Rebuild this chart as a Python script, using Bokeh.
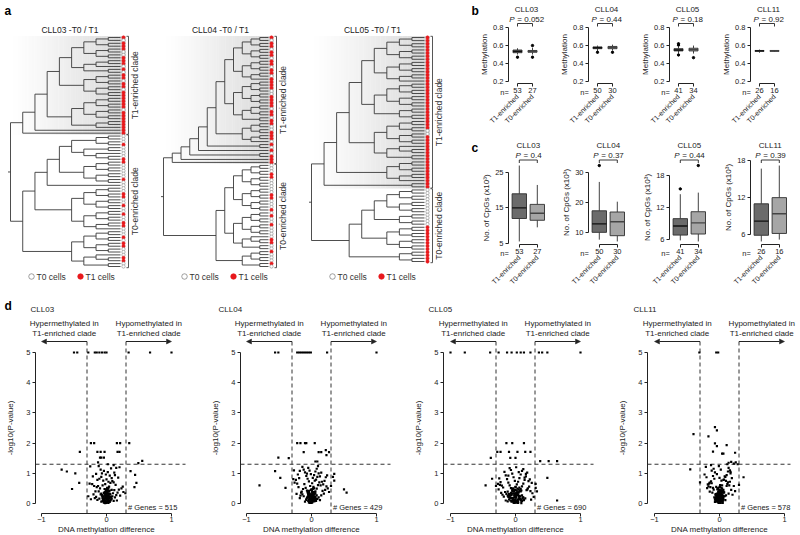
import math
from bokeh.plotting import figure
from bokeh.layouts import row, column
from bokeh.models import Range1d, FixedTicker, LinearAxis, Arrow, NormalHead
from bokeh.core.properties import value
from bokeh.embed import file_html
from bokeh.resources import INLINE

FONT = "Liberation Sans"
INK = "#222222"
RED = "#e8191c"

# ---------------- data ----------------
# dendrograms: "(" ... ")" = clade, 1 = T1 cell (red), 0 = T0 cell (white); first child of root = T1-enriched clade
tree_titles = ["CLL03 -T0 / T1", "CLL04 -T0 / T1", "CLL05 -T0 / T1"]
tree_cll03 = (
    "("
    "((("
    "(((((10)(11))((10)(01)))(((11)0)(10)))(((11)(01))((10)(11))))"
    "((((11)(11))((01)(11)))((11)1))"
    ")1)1)"
    "(("
    "(((((00)(01))((00)(0(01))))(((10)(00))((00)(10))))0)"
    "((((00)(11))((00)(10)))(((01)(00))((11)0)))"
    ")"
    "((((00)(10))((11)(00)))((0(11))(00)))"
    ")"
    ")"
)
tree_cll04 = (
    "("
    "((((("
    "(("
    "((((10)(11))((01)(10)))(((11)(01))((10)1)))"
    "((((11)(10))((01)(11)))(((10)(11))(01)))"
    ")"
    "(((10)(01))((11)0))"
    ")"
    "(10))1)(01))1)1)"
    "(("
    "((((00)(01))((10)(00)))(((00)(11))((00)(01))))"
    "((((01)(00))((10)(00)))((0(11))(00)))"
    ")"
    "(((10)(00))(10))"
    ")"
    ")"
)
tree_cll05 = (
    "("
    "((("
    "("
    "((((11)(11))((11)(11)))(((11)(11))((11)1)))"
    "((((11)(11))((11)(11)))((11)(11)))"
    ")"
    "((((11)(10))((01)(11)))((1(11))(11)))"
    ")"
    "(((11)(11))((11)1))"
    ")(11))"
    "(("
    "((((00)(00))((00)(00)))((00)(00)))"
    "(((11)(11))((11)(11)))"
    ")"
    "((11)(11))"
    ")"
    ")"
)
trees = [tree_cll03, tree_cll04, tree_cll05]

cases = ["CLL03", "CLL04", "CLL05", "CLL11"]
groups = ["T1-enriched", "T0-enriched"]
n_t1 = [53, 50, 41, 26]
n_t0 = [27, 30, 34, 16]

# b: methylation  [lower whisker, q1, median, q3, upper whisker]
meth_p = ["0.052", "0.44", "0.18", "0.92"]
meth_ticks = [0.2, 0.4, 0.6, 0.8]
meth_t1 = [[0.50, 0.52, 0.535, 0.55, 0.57], [0.54, 0.565, 0.575, 0.585, 0.60],
           [0.51, 0.54, 0.55, 0.565, 0.59], [0.52, 0.535, 0.54, 0.545, 0.555]]
meth_t0 = [[0.50, 0.525, 0.535, 0.545, 0.575], [0.545, 0.565, 0.58, 0.59, 0.61],
           [0.51, 0.54, 0.555, 0.57, 0.60], [0.53, 0.535, 0.54, 0.545, 0.55]]
meth_out_t1 = [[0.47], [0.525], [0.62, 0.605, 0.495], []]
meth_out_t0 = [[0.60, 0.47], [0.525], [0.465], []]

# c: number of CpGs (x10^3)
cpg_p = ["0.4", "0.37", "0.44", "0.39"]
cpg_ticks = [[5, 15, 25], [10, 20, 30], [6, 12, 18], [6, 12, 18]]
cpg_t1 = [[5.5, 12.0, 15.0, 19.0, 27.0], [7.8, 10.2, 13.0, 17.3, 26.8],
          [5.8, 6.8, 8.5, 9.9, 14.5], [4.9, 5.9, 8.2, 11.0, 16.7]]
cpg_t0 = [[9.5, 11.5, 13.5, 16.0, 21.5], [7.2, 9.1, 13.7, 16.9, 20.3],
          [5.6, 7.0, 9.1, 11.2, 14.8], [5.2, 6.2, 9.4, 12.0, 17.2]]
cpg_out_t1 = [[], [32.2], [15.5], []]
cpg_out_t0 = [[], [], [19.9], []]

# d: volcano plots
n_genes = [515, 429, 690, 578]
diff_cut = 0.3
p_cut = 1.3

core03_x = [0.01,-0.03,0.02,-0.05,0.04,-0.01,0.03,-0.02,0.06,-0.06,
            0.05,-0.08,0.07,-0.04,0.09,-0.09,0.00,0.02,-0.07,0.11,
            -0.11,0.08,-0.03,0.01,-0.12,0.13,0.04,-0.06,0.10,-0.14,
            0.15,-0.02,0.06,-0.10,0.12,-0.16,0.03,-0.05,0.17,-0.18,
            0.00,0.08,-0.13,0.14,-0.08,
            0.19,-0.20,0.05,-0.01,0.11,-0.15,0.16,-0.07,0.02,-0.11,
            0.21,-0.22,0.09,-0.04,0.13,-0.17,0.18,-0.09,0.07,-0.19,
            0.23,-0.24,0.12,-0.14,0.03,
            -0.26,0.26,0.20,-0.21,-0.28,0.29,0.15,-0.16,0.25,-0.12,
            0.00,0.01,-0.01,0.02,-0.02,0.03,-0.03,0.00,0.01,-0.01,
            0.04,-0.04,0.02,-0.02,0.05,-0.05,0.00,0.03,-0.03,0.01,
            -0.06,0.06,-0.01,0.02,-0.02]
core03_y = [0.05,0.08,0.12,0.15,0.18,0.22,0.25,0.28,0.10,0.20,
            0.32,0.06,0.14,0.35,0.24,0.30,0.38,0.42,0.26,0.09,
            0.16,0.45,0.48,0.52,0.40,0.20,0.56,0.60,0.34,0.12,
            0.28,0.64,0.68,0.50,0.44,0.22,0.72,0.76,0.36,0.18,
            0.80,0.84,0.58,0.62,0.88,
            0.46,0.30,0.92,0.96,0.70,0.54,0.10,1.00,1.04,0.82,
            0.26,0.64,0.74,1.08,0.94,0.40,0.86,1.12,1.16,0.58,
            0.50,0.14,1.02,0.78,0.02,
            0.66,0.38,1.20,0.90,0.24,0.34,1.18,0.98,0.56,1.24,
            0.02,0.04,0.06,0.08,0.03,0.11,0.07,0.13,0.16,0.19,
            0.09,0.12,0.21,0.24,0.05,0.17,0.27,0.30,0.33,0.36,
            0.08,0.23,0.40,0.44,0.01]
dense03_x = [0.00,0.02,-0.02,0.04,-0.04,0.01,-0.01,0.03,-0.03,0.05,
             -0.05,0.00,0.02,-0.02,0.06,-0.06,0.01,-0.01,0.04,-0.04,
             0.03,-0.03,0.07,-0.07,0.00,0.02,-0.02,0.05,-0.05,0.01,
             -0.01,0.08,-0.08,0.03,-0.03,0.00,0.04,-0.04,0.06,-0.06]
dense03_y = [0.15,0.12,0.18,0.22,0.09,0.27,0.31,0.05,0.14,0.20,
             0.24,0.29,0.34,0.38,0.11,0.17,0.41,0.45,0.32,0.03,
             0.25,0.36,0.21,0.28,0.48,0.07,0.10,0.43,0.13,0.19,
             0.23,0.16,0.33,0.52,0.04,0.37,0.40,0.06,0.30,0.26]
out03_x = [-0.50,-0.45,-0.28,-0.18,-0.15,-0.11,-0.07,-0.03,0.00,0.34,0.67,1.00,
           -0.24,-0.19,0.16,0.21,0.35,
           -0.41,-0.14,-0.09,-0.03,0.17,0.20,
           -0.10,-0.08,-0.04,
           0.49,0.55,-0.25,-0.13,0.02,0.11,
           -0.69,-0.61,-0.48,-0.53,-0.42,0.37,0.44,0.46,0.43]
out03_y = [5,5,5,5,5,5,5,5,5,5,5,5,
           2,2,2,2,2,
           1.71,1.71,1.71,1.71,1.71,1.71,
           1.52,1.52,1.52,
           1.34,1.41,1.23,1.36,1.30,1.27,
           1.12,1.06,1.00,0.48,0.68,1.07,0.95,0.68,0.54]

core04_x = [0.00,-0.02,0.03,-0.04,0.01,-0.06,0.05,-0.01,0.07,-0.08,
            0.02,-0.03,0.09,-0.10,0.04,-0.05,0.11,-0.12,0.06,-0.07,
            0.00,0.13,-0.14,0.08,-0.09,0.03,-0.02,0.15,-0.16,0.10,
            -0.11,0.01,0.17,-0.18,0.12,-0.04,0.05,-0.13,0.19,-0.20,
            0.07,-0.06,0.14,-0.15,0.02,
            0.21,-0.22,0.09,-0.08,0.16,-0.17,0.04,-0.01,0.23,-0.24,
            0.11,-0.10,0.18,-0.19,0.06,-0.03,0.25,-0.26,0.13,-0.12,
            0.20,-0.21,0.08,-0.05,0.27,
            -0.28,0.15,-0.14,0.22,-0.23,0.10,-0.07,0.30,-0.18,0.24,
            0.01,-0.01,0.02,0.00,-0.02,0.03,-0.03,0.01,0.04,-0.04,
            0.00,0.02,-0.02,0.05,-0.05,0.03,-0.01,0.06,-0.06,0.00,
            0.02,-0.03,0.04,-0.04,0.01]
core04_y = [0.04,0.07,0.10,0.13,0.16,0.19,0.22,0.25,0.09,0.12,
            0.28,0.31,0.15,0.06,0.34,0.37,0.20,0.24,0.40,0.43,
            0.46,0.11,0.30,0.49,0.52,0.55,0.58,0.27,0.36,0.61,
            0.64,0.67,0.42,0.18,0.70,0.73,0.76,0.48,0.33,0.54,
            0.79,0.82,0.60,0.39,0.85,
            0.45,0.66,0.88,0.91,0.72,0.26,0.94,0.97,0.57,0.78,
            1.00,1.03,0.63,0.84,1.06,1.09,0.50,0.69,0.90,1.12,
            0.75,0.96,1.15,1.18,0.38,
            0.81,1.02,1.21,0.87,0.32,1.24,0.99,0.58,1.08,0.93,
            0.03,0.05,0.09,0.12,0.14,0.07,0.18,0.21,0.11,0.25,
            0.28,0.31,0.06,0.15,0.34,0.38,0.02,0.22,0.41,0.45,
            0.17,0.29,0.50,0.04,0.36]
dense04_x = [0.01,-0.01,0.03,-0.03,0.00,0.05,-0.05,0.02,-0.02,0.04,
             -0.04,0.06,-0.06,0.01,-0.01,0.00,0.03,-0.03,0.07,-0.07,
             0.02,-0.02,0.05,-0.05,0.00,0.04,-0.04,0.01,-0.01,0.08,
             -0.08,0.03,-0.03,0.06,-0.06,0.02,-0.02,0.00,0.05,-0.05]
dense04_y = [0.13,0.16,0.10,0.20,0.24,0.08,0.28,0.32,0.05,0.18,
             0.36,0.12,0.22,0.40,0.44,0.30,0.26,0.34,0.15,0.19,
             0.48,0.02,0.38,0.09,0.11,0.29,0.42,0.06,0.23,0.27,
             0.14,0.52,0.03,0.33,0.37,0.21,0.25,0.46,0.17,0.31]
out04_x = [-0.56,-0.51,-0.22,-0.19,-0.16,-0.13,-0.10,-0.07,-0.04,-0.01,0.24,1.00,
           -0.22,-0.17,-0.10,-0.08,0.05,
           -0.12,0.11,0.15,0.27,0.22,0.23,
           -0.51,-0.35,0.06,0.09,-0.27,
           -0.56,-0.48,-0.80,-0.40,0.35,0.35,0.50,0.54,0.33]
out04_y = [5,5,5,5,5,5,5,5,5,5,5,5,
           2,2,2,2,2,
           1.70,1.70,1.70,1.70,1.77,1.60,
           1.52,1.50,1.39,1.39,1.10,
           1.07,0.85,0.60,0.52,0.98,0.76,0.47,0.36,0.88]

core05_x = [0.01,-0.02,0.03,-0.04,0.05,-0.06,0.00,0.07,-0.08,0.02,
            -0.01,0.09,-0.10,0.04,-0.03,0.11,-0.12,0.06,-0.05,0.13,
            -0.14,0.08,-0.07,0.00,0.15,-0.16,0.10,-0.09,0.02,0.17,
            -0.18,0.12,-0.11,0.04,-0.01,0.19,-0.20,0.14,-0.13,0.06,
            -0.03,0.21,-0.22,0.16,-0.15,
            0.08,-0.05,0.23,-0.24,0.18,-0.17,0.10,-0.07,0.25,-0.26,
            0.20,-0.19,0.12,-0.09,0.01,0.22,-0.21,0.14,-0.11,0.03,
            0.24,-0.23,0.16,-0.27,0.28,
            -0.30,0.05,-0.02,0.18,-0.15,0.26,-0.25,0.09,0.31,-0.12,
            0.00,0.02,-0.02,0.04,-0.04,0.01,-0.01,0.06,-0.06,0.03,
            -0.03,0.08,-0.08,0.00,0.05,-0.05,0.10,-0.10,0.02,-0.02,
            0.07,-0.07,0.04,-0.04,0.00]
core05_y = [0.03,0.06,0.09,0.12,0.15,0.18,0.21,0.24,0.27,0.30,
            0.33,0.08,0.14,0.36,0.39,0.20,0.26,0.42,0.45,0.11,
            0.32,0.48,0.51,0.54,0.17,0.38,0.57,0.60,0.63,0.44,
            0.23,0.66,0.69,0.72,0.75,0.50,0.29,0.78,0.81,0.84,
            0.87,0.56,0.35,0.90,0.93,
            0.96,0.99,0.41,0.62,1.02,1.05,1.08,1.11,0.68,0.47,
            0.74,0.53,1.14,1.17,1.20,0.80,0.59,0.86,0.92,0.05,
            0.13,0.71,0.98,0.65,0.22,
            0.58,1.04,0.02,0.46,0.10,0.34,0.83,0.01,0.52,0.07,
            0.04,0.07,0.10,0.13,0.16,0.19,0.22,0.25,0.28,0.31,
            0.06,0.12,0.18,0.34,0.37,0.40,0.09,0.24,0.43,0.46,
            0.15,0.33,0.02,0.50,0.55]
dense05_x = [0.00,0.03,-0.03,0.06,-0.06,0.01,-0.01,0.04,-0.04,0.08,
             -0.08,0.02,-0.02,0.05,-0.05,0.10,-0.10,0.00,0.07,-0.07,
             0.03,-0.03,0.12,-0.12,0.01,-0.01,0.09,-0.09,0.04,-0.04,
             0.06,-0.06,0.00,0.11,-0.11,0.02,-0.02,0.08,-0.08,0.05]
dense05_y = [0.14,0.11,0.17,0.21,0.08,0.25,0.29,0.05,0.33,0.13,
             0.19,0.37,0.41,0.23,0.09,0.27,0.31,0.45,0.15,0.35,
             0.49,0.03,0.20,0.39,0.07,0.12,0.43,0.24,0.28,0.18,
             0.53,0.06,0.32,0.16,0.22,0.36,0.26,0.40,0.10,0.47]
out05_x = [-1.00,-0.78,-0.39,-0.26,-0.13,-0.06,0.02,0.08,0.13,0.23,0.36,0.41,0.49,1.00,
           -0.14,-0.05,0.13,
           -0.28,-0.23,-0.10,0.03,0.15,0.23,
           -0.38,-0.08,0.00,
           0.38,0.51,0.64,
           -0.46,-0.36,0.31,0.49,0.64,0.33]
out05_y = [5,5,5,5,5,5,5,5,5,5,5,5,5,5,
           2,2,2,
           1.71,1.71,1.71,1.71,1.71,1.71,
           1.51,1.51,1.51,
           1.40,1.40,1.40,
           0.60,0.82,0.65,0.85,0.10,0.40]

core11_x = [0.00,-0.01,0.02,-0.03,0.01,-0.04,0.03,-0.02,0.05,-0.05,
            0.04,-0.06,0.06,-0.07,0.00,0.07,-0.08,0.08,-0.01,0.02,
            -0.09,0.09,-0.03,0.04,-0.10,0.10,-0.05,0.11,-0.11,0.01,
            0.12,-0.12,0.05,-0.06,0.13,-0.13,0.03,-0.02,0.14,-0.14,
            0.07,-0.08,0.15,-0.15,0.00,
            0.09,-0.10,0.16,-0.16,0.11,-0.04,0.17,-0.17,0.06,-0.07,
            0.18,-0.18,0.13,-0.12,0.02,0.19,-0.19,0.08,-0.09,0.14,
            -0.15,0.20,-0.21,0.10,-0.01,
            0.22,-0.23,0.16,-0.13,0.05,0.24,-0.20,0.12,-0.06,0.17,
            0.00,-0.01,0.01,-0.02,0.02,-0.03,0.03,0.00,-0.04,0.04,
            -0.01,0.01,-0.05,0.05,-0.02,0.02,0.00,-0.06,0.06,-0.03,
            0.03,-0.01,0.01,-0.04,0.04]
core11_y = [0.04,0.07,0.10,0.13,0.16,0.19,0.22,0.25,0.08,0.12,
            0.28,0.31,0.15,0.05,0.34,0.37,0.20,0.24,0.40,0.43,
            0.46,0.11,0.30,0.49,0.52,0.27,0.55,0.58,0.36,0.61,
            0.64,0.67,0.42,0.18,0.70,0.73,0.76,0.48,0.33,0.54,
            0.79,0.82,0.60,0.39,0.85,
            0.88,0.91,0.72,0.66,0.94,0.97,1.00,0.57,0.78,1.03,
            0.45,0.63,1.06,1.09,1.12,0.84,0.51,0.90,1.15,1.18,
            0.69,0.29,1.21,0.75,1.24,
            0.58,0.96,1.10,1.27,0.02,0.41,0.87,1.30,0.14,1.05,
            0.03,0.06,0.09,0.12,0.15,0.18,0.21,0.24,0.07,0.27,
            0.30,0.33,0.14,0.36,0.39,0.42,0.45,0.10,0.22,0.48,
            0.51,0.02,0.55,0.28,0.60]
dense11_x = [0.00,-0.02,0.02,-0.04,0.04,0.01,-0.01,0.03,-0.03,0.05,
             -0.05,0.00,0.02,-0.02,0.06,-0.06,0.01,-0.01,0.04,-0.04,
             0.03,-0.03,0.00,0.07,-0.07,0.02,-0.02,0.05,-0.05,0.01,
             -0.01,0.00,0.04,-0.04,0.03,-0.03,0.06,-0.06,0.02,-0.02]
dense11_y = [0.12,0.15,0.09,0.19,0.23,0.06,0.27,0.31,0.16,0.11,
             0.21,0.35,0.39,0.04,0.25,0.14,0.43,0.18,0.29,0.33,
             0.08,0.47,0.22,0.37,0.13,0.26,0.51,0.41,0.07,0.30,
             0.10,0.55,0.17,0.24,0.36,0.20,0.45,0.28,0.02,0.34]
out11_x = [-0.31,-0.05,-0.02,-0.07,-0.04,-0.40,-0.17,-0.07,-0.04,0.11,-0.10,0.04,
           0.06,0.24,0.14,0.18,0.22,0.25,0.28,-0.45,0.37,-0.30,0.30]
out11_y = [5,5,5,2.53,2.42,2.30,2.22,1.99,1.90,1.93,1.72,1.65,
           1.65,1.68,1.35,1.38,1.32,1.36,1.30,1.13,0.87,0.70,0.62]

volc_x = [core03_x + dense03_x + out03_x, core04_x + dense04_x + out04_x,
          core05_x + dense05_x + out05_x, core11_x + dense11_x + out11_x]
volc_y = [core03_y + dense03_y + out03_y, core04_y + dense04_y + out04_y,
          core05_y + dense05_y + out05_y, core11_y + dense11_y + out11_y]
for vx, vy in zip(volc_x, volc_y):
    assert len(vx) == len(vy)


# ---------------- helpers ----------------
def parse_tree(s):
    pos = 0

    def node():
        nonlocal pos
        ch = s[pos]
        pos += 1
        if ch == "(":
            kids = []
            while s[pos] != ")":
                kids.append(node())
            pos += 1
            return kids
        return int(ch)

    t = node()
    assert pos == len(s), "unbalanced tree string"
    return t


def n_leaves(t):
    return 1 if isinstance(t, int) else sum(n_leaves(k) for k in t)


def height(t):
    return 0 if isinstance(t, int) else 1 + max(height(k) for k in t)


def style_axis(ax, label_size="7.5px"):
    ax.axis_line_color = INK
    ax.axis_line_width = 1
    ax.major_tick_line_color = INK
    ax.minor_tick_line_color = None
    ax.major_tick_in = 0
    ax.major_tick_out = 3
    ax.major_label_text_font = FONT
    ax.major_label_text_font_size = label_size
    ax.major_label_text_color = INK
    ax.major_label_standoff = 2
    ax.axis_label_text_font = FONT
    ax.axis_label_text_font_size = "8px"
    ax.axis_label_text_font_style = "normal"
    ax.axis_label_text_color = INK
    ax.axis_label_standoff = 2


def base_fig(**kw):
    p = figure(output_backend="svg", toolbar_location=None, min_border=0,
               x_axis_location=None, y_axis_location=None, **kw)
    p.grid.visible = False
    p.outline_line_color = None
    p.background_fill_color = "white"
    p.border_fill_color = "white"
    return p


def vmap(ft, fb, rt, rb, lo, hi):
    """page rows ft..fb of a figure, plot region rt..rb showing lo..hi"""
    s = (rb - rt) / (hi - lo)

    def to_y(page):
        return lo + (rb - page) / s
    return (to_y(fb), to_y(ft)), to_y


ARIAL_W = {"P": 0.667, " ": 0.278, "=": 0.584, ".": 0.278}


def text_w(s, size):
    return sum(ARIAL_W.get(ch, 0.556) for ch in s) * size


def p_label(p, xc_page, y, pv, to_x, size=8):
    rest = "= " + pv
    w = text_w("P " + rest, size)
    x0 = xc_page - w / 2
    p.text(x=[to_x(x0)], y=[y], text=["P"], text_font=value(FONT), text_font_size="%dpx" % size,
           text_font_style="italic", text_color=INK, text_align="left", text_baseline="middle")
    p.text(x=[to_x(x0 + (ARIAL_W["P"] + ARIAL_W[" "]) * size + 0.5)], y=[y], text=[rest],
           text_font=value(FONT), text_font_size="%dpx" % size, text_color=INK,
           text_align="left", text_baseline="middle")


# ---------------- panel a ----------------
A_W, TOP_H = 470, 290
pa = base_fig(width=A_W, height=TOP_H, x_range=Range1d(0, A_W), y_range=Range1d(TOP_H, 0))

tree_geo = [(10, 120, 37, 266), (163, 268, 37, 266), (311, 424, 37, 261)]

for s, title, (x_root, x_leaf, y_top, y_bot) in zip(trees, tree_titles, tree_geo):
    t = parse_tree(s)
    N = n_leaves(t)
    H = height(t)
    dy = (y_bot - y_top) / (N - 1)
    x0s, y0s, x1s, y1s = [], [], [], []
    leaf_y, leaf_c = [], []
    counter = [0]

    def place(nd):
        if isinstance(nd, int):
            y = y_top + counter[0] * dy
            counter[0] += 1
            leaf_y.append(y)
            leaf_c.append(nd)
            return x_leaf, y
        pts = [place(k) for k in nd]
        x = x_leaf - (x_leaf - x_root) * height(nd) / H
        x0s.append(x); y0s.append(pts[0][1]); x1s.append(x); y1s.append(pts[-1][1])
        for cx, cy in pts:
            x0s.append(x); y0s.append(cy); x1s.append(cx); y1s.append(cy)
        return x, (pts[0][1] + pts[-1][1]) / 2

    rx, ry = place(t)
    x0s.append(rx - 2.5); y0s.append(ry); x1s.append(rx); y1s.append(ry)

    n1 = n_leaves(t[0])
    dot_x = x_leaf + 3
    # grey gradient behind the T1-enriched clade
    nstrip = 48
    ya, yb = y_top - 1.6, leaf_y[n1 - 1] + 1.6
    lefts, rights, cols = [], [], []
    for i in range(nstrip):
        l = x_root + (dot_x + 2 - x_root) * i / nstrip
        r = x_root + (dot_x + 2 - x_root) * (i + 1) / nstrip
        g = int(round(255 - 40 * ((i + 0.5) / nstrip) ** 1.2))
        lefts.append(l); rights.append(r + 0.3); cols.append("#%02x%02x%02x" % (g, g, g))
    pa.quad(left=lefts, right=rights, top=[ya] * nstrip, bottom=[yb] * nstrip,
            fill_color=cols, line_color=None)

    pa.segment(x0=x0s, y0=y0s, x1=x1s, y1=y1s, line_color="#3a3a3a", line_width=0.9)

    fills = [RED if c == 1 else "white" for c in leaf_c]
    lines = [RED if c == 1 else "#8a8a8a" for c in leaf_c]
    pa.scatter(x=[dot_x] * N, y=leaf_y, size=3.3, fill_color=fills, line_color=lines, line_width=0.6)

    # brackets + clade labels
    bx = x_leaf + 8
    t1a, t1b = y_top - 1.2, leaf_y[n1 - 1] + 1.2
    t0a, t0b = leaf_y[n1] - 1.2, y_bot + 1.2
    pa.segment(x0=[bx, bx - 2, bx - 2, bx, bx - 2, bx - 2],
               y0=[t1a, t1a, t1b, t0a, t0a, t0b],
               x1=[bx, bx, bx, bx, bx, bx],
               y1=[t1b, t1a, t1b, t0b, t0a, t0b], line_color="#444444", line_width=0.9)
    pa.text(x=[bx + 6, bx + 6], y=[(t1a + t1b) / 2, (t0a + t0b) / 2],
            text=["T1-enriched clade", "T0-enriched clade"], angle=math.pi / 2,
            text_font=value(FONT), text_font_size="8.5px", text_color="#333333",
            text_align="center", text_baseline="middle")

    pa.text(x=[(x_root + dot_x) / 2 + 3], y=[29], text=[title], text_font=value(FONT),
            text_font_size="8.5px", text_color=INK, text_align="center", text_baseline="middle")

    # legend
    pa.scatter(x=[x_root + 21, x_root + 70], y=[276, 276], size=5.5,
               fill_color=["white", RED], line_color=["#777777", RED], line_width=0.7)
    pa.text(x=[x_root + 26, x_root + 75], y=[276.5, 276.5], text=["T0 cells", "T1 cells"],
            text_font=value(FONT), text_font_size="8.5px", text_color="#333333",
            text_align="left", text_baseline="middle")

pa.text(x=[4], y=[10], text=["a"], text_font=value(FONT), text_font_size="12px",
        text_font_style="bold", text_color="black", text_align="left", text_baseline="middle")


# ---------------- panels b and c ----------------
BC_W = [80, 81, 81, 88]
BC_LEFT = [470, 550, 631, 712]
AX_OFF = 38
B_H, C_H = 135, 155


def box_panel(i, kind):
    W, fl = BC_W[i], BC_LEFT[i]
    ax_page = fl + AX_OFF
    if kind == "b":
        s1, s0, o1, o0 = meth_t1[i], meth_t0[i], meth_out_t1[i], meth_out_t0[i]
        ticks, ylabel, pv = meth_ticks, "Methylation", meth_p[i]
        pad = 0.04 * (ticks[-1] - ticks[0])
        lo, hi = ticks[0] - pad, ticks[-1] + pad
        ft, fb, rt, rb = 0, B_H, 25, 83
        pxu, bw, xc = 15.0, 0.6, 1.6
        title_y, p_y, br_y, letter_y = 8.5, 18.5, 23, 10
        letter = "b"
    else:
        s1, s0, o1, o0 = cpg_t1[i], cpg_t0[i], cpg_out_t1[i], cpg_out_t0[i]
        ticks, ylabel, pv = cpg_ticks[i], "No. of CpGs (x10\u00b3)", cpg_p[i]
        vals = s1 + s0 + o1 + o0
        pad = 0.04 * (max(vals) - min(vals))
        lo, hi = min(vals) - pad, max(vals) + pad
        ft, fb, rt, rb = B_H, B_H + C_H, 162, 244
        pxu, bw, xc = 18.0, 0.8, 1.5
        title_y, p_y, br_y, letter_y = 145, 155, 159.5, 147
        letter = "c"
    (y0, y1), to_y = vmap(ft, fb, rt, rb, lo, hi)
    x0 = 0.4 - AX_OFF / pxu
    x1 = x0 + W / pxu

    def to_x(page):
        return x0 + (page - fl) / pxu

    p = base_fig(width=W, height=fb - ft, x_range=Range1d(x0, x1), y_range=Range1d(y0, y1))

    p.text(x=[xc], y=[to_y(title_y)], text=[cases[i]], text_font=value(FONT), text_font_size="8px",
           text_color=INK, text_align="center", text_baseline="middle")
    xc_page = fl + (xc - x0) * pxu
    p_label(p, xc_page, to_y(p_y), pv, to_x)
    if i == 0:
        p.text(x=[to_x(fl + 1)], y=[to_y(letter_y)], text=[letter], text_font=value(FONT),
               text_font_size="12px", text_font_style="bold", text_color="black",
               text_align="left", text_baseline="middle")

    stats = [s1, s0]
    xs = [1, 2]
    p.segment(x0=[1, 1, 2, 2], x1=[1, 1, 2, 2],
              y0=[s1[0], s1[3], s0[0], s0[3]], y1=[s1[1], s1[4], s0[1], s0[4]],
              line_color="#2e2e2e", line_width=0.9)
    p.quad(left=[x - bw / 2 for x in xs], right=[x + bw / 2 for x in xs],
           bottom=[s[1] for s in stats], top=[s[3] for s in stats],
           fill_color=["#6b6b6b", "#a6a6a6"], line_color="#2e2e2e", line_width=0.9)
    p.segment(x0=[x - bw / 2 for x in xs], x1=[x + bw / 2 for x in xs],
              y0=[s[2] for s in stats], y1=[s[2] for s in stats],
              line_color=["#111111", "#444444"], line_width=1.4)
    ox = [1] * len(o1) + [2] * len(o0)
    if ox:
        p.scatter(x=ox, y=o1 + o0, size=2.4, color="black")
    # P-value bracket
    yb, yl = to_y(br_y), to_y(br_y + 3)
    p.segment(x0=[1, 1, 2], x1=[2, 1, 2], y0=[yb, yb, yb], y1=[yb, yl, yl],
              line_color=INK, line_width=0.9)

    ya = LinearAxis(fixed_location=0.4, ticker=FixedTicker(ticks=ticks), bounds=(ticks[0], ticks[-1]),
                    axis_label=ylabel)
    style_axis(ya)
    ya.axis_label_standoff = 1
    p.add_layout(ya, "left")

    xa = LinearAxis(fixed_location=lo, ticker=FixedTicker(ticks=[1, 2]), bounds=(1, 2),
                    major_label_overrides={1: str(n_t1[i]), 2: str(n_t0[i])})
    style_axis(xa)
    xa.major_label_standoff = 1
    p.add_layout(xa, "below")

    xa2 = LinearAxis(fixed_location=to_y(rb + 12), ticker=FixedTicker(ticks=[1, 2]),
                     major_label_overrides={1: groups[0], 2: groups[1]})
    style_axis(xa2, "7px")
    xa2.axis_line_color = None
    xa2.major_tick_line_color = None
    xa2.major_tick_out = 0
    xa2.major_label_standoff = 0
    xa2.major_label_orientation = math.pi / 4
    p.add_layout(xa2, "below")

    p.text(x=[to_x(ax_page - 4)], y=[to_y(rb + 8.5)], text=["n="], text_font=value(FONT),
           text_font_size="7.5px", text_color=INK, text_align="center", text_baseline="middle")
    return p


bs = [box_panel(i, "b") for i in range(4)]
cs = [box_panel(i, "c") for i in range(4)]


# ---------------- panel d ----------------
V_LEFT = [0, 208, 412, 616]
V_W = [208, 204, 204, 184]
V_ZERO = [106, 311, 515, 719]
V_YAX = [35, 240, 443, 647]
V_END = [185, 390, 593, 790]
V_TITLE = [30, 218, 428, 633]
PX = 65.0
VFT, VFB = TOP_H, 535
(vy0, vy1), vto_y = vmap(VFT, VFB, 352, 503, 0.0, 5.0)

ds = []
for i in range(4):
    fl, W = V_LEFT[i], V_W[i]
    x0 = (fl - V_ZERO[i]) / PX
    x1 = x0 + W / PX

    def to_x(page, x0=x0, fl=fl):
        return x0 + (page - fl) / PX

    p = base_fig(width=W, height=VFB - VFT, x_range=Range1d(x0, x1), y_range=Range1d(vy0, vy1))
    y_axis_line = vto_y(513)
    y_arrow = vto_y(341)
    xl, xr = to_x(V_YAX[i]), to_x(V_END[i])
    p.segment(x0=[xl], x1=[xr], y0=[p_cut], y1=[p_cut], line_dash="4 3", line_color="#333333",
              line_width=1)
    p.segment(x0=[-diff_cut, diff_cut], x1=[-diff_cut, diff_cut], y0=[y_axis_line] * 2,
              y1=[y_arrow] * 2, line_dash="4 3", line_color="#333333", line_width=1)
    p.scatter(x=volc_x[i], y=volc_y[i], marker="square", size=2.2, color="black", line_width=0)
    for xe in (-1.0, 1.0):
        p.add_layout(Arrow(end=NormalHead(size=5, fill_color=INK, line_color=INK, line_width=0.5),
                           x_start=diff_cut * xe, y_start=y_arrow, x_end=xe, y_end=y_arrow,
                           line_color=INK, line_width=1))
    p.text(x=[-0.65, 0.65, -0.65, 0.65], y=[vto_y(323)] * 2 + [vto_y(333)] * 2,
           text=["Hypermethylated in", "Hypomethylated in", "T1-enriched clade", "T1-enriched clade"],
           text_font=value(FONT), text_font_size="8px", text_color=INK,
           text_align="center", text_baseline="middle")
    p.text(x=[diff_cut + 0.03], y=[vto_y(507)], text=["# Genes = %d" % n_genes[i]],
           text_font=value(FONT), text_font_size="7.5px", text_color=INK,
           text_align="left", text_baseline="middle")
    p.text(x=[to_x(V_TITLE[i])], y=[vto_y(309)], text=[cases[i]], text_font=value(FONT),
           text_font_size="8px", text_color=INK, text_align="left", text_baseline="middle")
    if i == 0:
        p.text(x=[to_x(4)], y=[vto_y(305)], text=["d"], text_font=value(FONT),
               text_font_size="12px", text_font_style="bold", text_color="black",
               text_align="left", text_baseline="middle")
    ya = LinearAxis(fixed_location=xl, ticker=FixedTicker(ticks=[0, 1, 2, 3, 4, 5]), bounds=(0, 5),
                    axis_label="-log10(P-value)")
    style_axis(ya)
    ya.axis_label_standoff = 8
    p.add_layout(ya, "left")
    xa = LinearAxis(fixed_location=y_axis_line, ticker=FixedTicker(ticks=[-1, 0, 1]), bounds=(-1, 1),
                    axis_label="DNA methylation difference")
    style_axis(xa)
    xa.major_label_standoff = 0
    xa.axis_label_standoff = 0
    p.add_layout(xa, "below")
    ds.append(p)

layout = column(row(pa, column(row(*bs), row(*cs))), row(*ds))
open("out.html", "w").write(file_html(layout, INLINE, title="Figure"))
